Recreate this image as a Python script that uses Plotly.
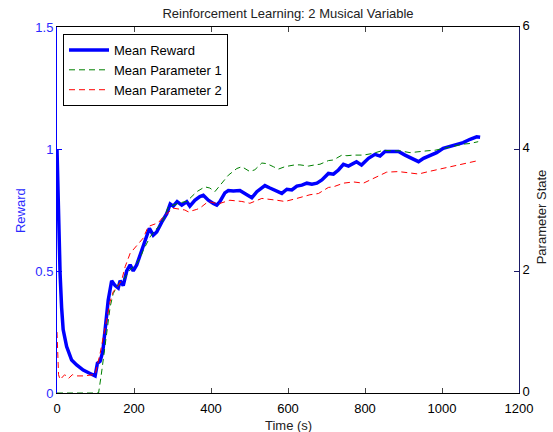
import plotly.graph_objects as go

# ---- data ----
time_reward = [0, 3, 8, 12, 16, 25, 38, 51, 60, 68, 86, 99, 105, 112, 119, 125, 133, 142, 151, 159,
               164, 172, 181, 190, 198, 207, 216, 224, 233, 240, 250, 259, 272, 285, 294, 302, 312,
               324, 337, 345, 358, 371, 380, 393, 406, 415, 423, 436, 445, 458, 475, 488, 506, 519,
               540, 553, 566, 584, 597, 610, 623, 636, 649, 662, 675, 688, 705, 718, 731, 744, 757,
               778, 791, 809, 826, 839, 852, 869, 887, 904, 921, 939, 952, 969, 986, 1003, 1021,
               1038, 1055, 1073, 1090, 1099]
reward = [1.0, 0.76, 0.49, 0.35, 0.26, 0.19, 0.135, 0.115, 0.105, 0.094, 0.08, 0.07, 0.122, 0.13,
          0.17, 0.27, 0.38, 0.46, 0.44, 0.43, 0.46, 0.44, 0.50, 0.525, 0.50, 0.525, 0.565, 0.60,
          0.64, 0.675, 0.647, 0.66, 0.70, 0.735, 0.775, 0.766, 0.784, 0.77, 0.784, 0.766, 0.79,
          0.805, 0.81, 0.79, 0.777, 0.77, 0.784, 0.82, 0.83, 0.828, 0.83, 0.818, 0.80, 0.825,
          0.85, 0.84, 0.83, 0.818, 0.835, 0.832, 0.848, 0.852, 0.86, 0.856, 0.86, 0.873, 0.90,
          0.897, 0.914, 0.937, 0.93, 0.948, 0.934, 0.962, 0.978, 0.971, 0.99, 0.99, 0.99, 0.975,
          0.962, 0.948, 0.962, 0.975, 0.985, 1.003, 1.012, 1.02, 1.026, 1.04, 1.05, 1.048]

time_p1 = [0, 108, 115, 120, 129, 138, 146, 159, 172, 190, 207, 216, 224, 242, 255, 268, 276, 289,
           302, 320, 337, 363, 384, 397, 410, 423, 445, 467, 480, 501, 514, 532, 545, 562, 575,
           592, 618, 631, 653, 670, 683, 705, 718, 740, 753, 770, 796, 822, 848, 869, 891, 917,
           939, 961, 982, 1003, 1029, 1055, 1073, 1094]
param1 = [0, 0, 0.3, 0.55, 1.05, 1.41, 1.63, 1.78, 1.85, 2.02, 2.12, 2.21, 2.34, 2.56, 2.67, 2.75,
          2.84, 3.05, 3.08, 3.12, 3.14, 3.30, 3.38, 3.36, 3.30, 3.40, 3.57, 3.68, 3.71, 3.63, 3.66,
          3.77, 3.76, 3.71, 3.67, 3.71, 3.74, 3.74, 3.72, 3.74, 3.75, 3.81, 3.82, 3.90, 3.89, 3.90,
          3.90, 3.93, 3.98, 3.97, 3.97, 3.94, 3.96, 3.97, 3.98, 4.01, 4.04, 4.08, 4.09, 4.12]

time_p2 = [0, 2, 4, 8, 15, 20, 30, 40, 50, 70, 94, 99, 112, 120, 129, 138, 146, 159, 168, 177, 190,
           203, 224, 237, 263, 276, 302, 332, 341, 363, 371, 393, 419, 449, 480, 501, 532, 571,
           592, 623, 657, 679, 705, 718, 744, 770, 796, 826, 856, 887, 917, 939, 965, 995, 1021,
           1047, 1073, 1094]
param2 = [1.0, 0.4, 0.3, 0.22, 0.27, 0.3, 0.24, 0.3, 0.28, 0.28, 0.3, 0.3, 0.65, 0.92, 1.2, 1.5,
          1.66, 1.76, 1.85, 2.07, 2.29, 2.38, 2.54, 2.73, 2.79, 2.89, 3.03, 3.0, 2.97, 3.01, 3.03,
          3.14, 3.10, 3.16, 3.14, 3.11, 3.19, 3.16, 3.14, 3.19, 3.25, 3.27, 3.37, 3.38, 3.44, 3.46,
          3.44, 3.53, 3.62, 3.63, 3.60, 3.59, 3.63, 3.67, 3.71, 3.74, 3.78, 3.81]

x_ticks = [0, 200, 400, 600, 800, 1000, 1200]
left_ticks = [0, 0.5, 1, 1.5]
left_ticktext = ['0', '0.5', '1', '1.5']
right_ticks = [0, 2, 4, 6]

FONT = 'Liberation Sans, Arial, Helvetica, sans-serif'
TXT = 13

fig = go.Figure()
fig.add_trace(go.Scatter(x=time_reward, y=reward, name='Mean Reward', mode='lines',
                         line=dict(color='#0000ff', width=3.5), yaxis='y'))
fig.add_trace(go.Scatter(x=time_p1, y=param1, name='Mean Parameter 1', mode='lines',
                         line=dict(color='#008000', width=1, dash='6px,4px'), yaxis='y2'))
fig.add_trace(go.Scatter(x=time_p2, y=param2, name='Mean Parameter 2', mode='lines',
                         line=dict(color='#ff0000', width=1, dash='6px,4px'), yaxis='y2'))

fig.update_layout(
    width=553, height=432,
    margin=dict(l=57, r=34, t=27, b=39),
    paper_bgcolor='white', plot_bgcolor='white',
    font=dict(family=FONT, size=TXT, color='black'),
    showlegend=True,
    title=dict(text='Reinforcement Learning: 2 Musical Variable', x=0.5, xref='paper',
               xanchor='center', y=1 - 13 / 432, yanchor='middle',
               font=dict(size=TXT, color='#222222')),
    legend=dict(x=0.013, y=0.981, xanchor='left', yanchor='top',
                bgcolor='white', bordercolor='black', borderwidth=1,
                font=dict(size=TXT), tracegroupgap=0, itemwidth=40),
    xaxis=dict(range=[0, 1200], tickvals=x_ticks, ticks='inside', ticklen=5,
               showline=True, linecolor='black', linewidth=1, mirror='ticks',
               showgrid=False, zeroline=False, tickfont=dict(size=TXT),
               ticklabelstandoff=3),
    yaxis=dict(range=[0, 1.5], tickvals=left_ticks, ticktext=left_ticktext,
               ticks='inside', ticklen=5, tickcolor='#0000ff',
               showline=True, linecolor='#0000ff', linewidth=1,
               showgrid=False, zeroline=False, tickfont=dict(size=TXT, color='#2a2aff')),
    yaxis2=dict(range=[0, 6], tickvals=right_ticks, overlaying='y', side='right',
                ticks='inside', ticklen=5, tickcolor='#1a1a66',
                showline=True, linecolor='#1a1a66', linewidth=1,
                showgrid=False, zeroline=False, tickfont=dict(size=TXT, color='black'),
                ticklabelshift=-2),
    annotations=[
        dict(text='Reward', xref='paper', yref='paper', x=(20 - 57) / 462, y=0.497,
             textangle=-90, showarrow=False, xanchor='center', yanchor='middle',
             font=dict(size=TXT, color='#2a2aff')),
        dict(text='Parameter State', xref='paper', yref='paper', x=(541 - 57) / 462, y=0.48,
             textangle=-90, showarrow=False, xanchor='center', yanchor='middle',
             font=dict(size=TXT, color='#222222')),
        dict(text='Time (s)', xref='paper', yref='paper', x=0.5, y=(393 - 425) / 366,
             showarrow=False, xanchor='center', yanchor='middle',
             font=dict(size=TXT, color='#222222')),
    ],
)

fig.write_html('out.html')
